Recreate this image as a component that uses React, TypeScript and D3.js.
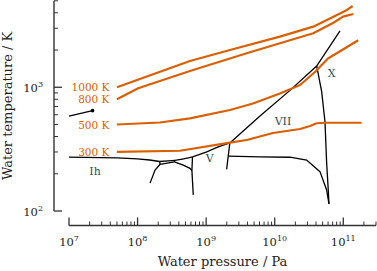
import React from 'react';
import * as d3 from 'd3';

const W = 377;
const H = 271;
const ORANGE = '#d95f02';
const PHASE_COLOR = '#2f4f4f';
const FONT = '"DejaVu Serif", serif';

// isotherms: pressure (Pa) and temperature (K)
const iso1000P = [5e7, 5.81e8, 2.23e9, 1.19e10, 3.65e10, 8.09e10, 1.13e11, 1.37e11];
const iso1000T = [1000, 1632, 2003, 2566, 3090, 3841, 4217, 4541];
const iso800P = [5e7, 1.02e8, 5.81e8, 3.9e9, 3.65e10, 7.08e10, 9.9e10, 1.4e11];
const iso800T = [800, 982, 1355, 1883, 2733, 3311, 3724, 3914];
const iso500P = [5e7, 2.12e8, 5.81e8, 2.23e9, 4.82e9, 1.19e10, 2.34e10, 3.86e10, 5.98e10, 1.06e11, 1.65e11];
const iso500T = [500, 519, 561, 655, 740, 891, 1044, 1330, 1709, 2066, 2399];
const iso300P = [5e7, 4.16e8, 2.23e9, 3.9e9, 9.44e9, 2.34e10, 3.27e10, 4.09e10, 5.41e10, 1.85e11];
const iso300T = [300, 307, 357, 375, 427, 460, 487, 512, 517, 517];
const isoLabels = ['1000 K', '800 K', '500 K', '300 K'];

// phase boundaries [P, T]
const liquidVapour = [[1e7, 584], [2.2064e7, 647.1]];
const criticalPoint = [2.2064e7, 647.1];
const meltIh = [[1e7, 272.5], [5e7, 268.8], [1e8, 264.2], [1.5e8, 258.3], [2.099e8, 251.2]];
const ihII = [[2.129e8, 238.5], [1.8e8, 214], [1.52e8, 168]];
const ihIII = [[2.099e8, 251.2], [2.129e8, 238.5]];
const meltIII = [[2.099e8, 251.2], [2.8e8, 254], [3.501e8, 256.2]];
const iiIII = [[2.129e8, 238.5], [3.44e8, 249.4]];
const iiiV = [[3.501e8, 256.2], [3.44e8, 249.4]];
const iiV = [[3.44e8, 249.4], [4.64e8, 235], [5.81e8, 221], [6.2e8, 212]];
const meltV = [[3.501e8, 256.2], [4.5e8, 263], [5.5e8, 269], [6.324e8, 273.3]];
const vVI = [[6.324e8, 273.3], [6.2e8, 212], [6.49e8, 135]];
const meltVI = [[6.324e8, 273.3], [1e9, 299], [1.5e9, 330], [2.216e9, 355]];
const viVII = [[2.216e9, 355], [2.1e9, 278], [1.99e9, 217]];
const viiVIII = [[2.1e9, 278], [6.1e9, 274], [1.67e10, 272], [2.92e10, 258], [4.57e10, 208], [5.72e10, 148], [6.18e10, 114]];
const meltVII = [[2.216e9, 355], [6.1e9, 585], [1.67e10, 944], [4.09e10, 1486], [8.95e10, 2851]];
const viiX = [[4.09e10, 1486], [4.84e10, 921], [5.41e10, 527], [5.72e10, 244], [6.04e10, 148], [6.18e10, 114]];

const phaseNames = ['Ih', 'V', 'VII', 'X'];
const phaseP = [2.4e7, 1.13e9, 1.32e10, 6.79e10];
const phaseT = [195, 249, 496, 1211];

const xMajor = [1e7, 1e8, 1e9, 1e10, 1e11];
const yMajor = [1e2, 1e3];

export default function App() {
  const x = d3.scaleLog().domain([1e7, 3e11]).range([69, 376]);
  const y = d3.scaleLog().domain([100, 5000]).range([211, 0.8]);
  const line = d3.line<number[]>().x(d => x(d[0])).y(d => y(d[1]));

  const isoP = [iso1000P, iso800P, iso500P, iso300P];
  const isoT = [iso1000T, iso800T, iso500T, iso300T];
  const isoLines = isoP.map((ps, i) => ps.map((p, j) => [p, isoT[i][j]]));

  const bounds = [liquidVapour, meltIh, ihII, ihIII, meltIII, iiIII, iiiV, iiV, meltV, vVI, meltVI, viVII, viiVIII, meltVII, viiX];

  const xMinor: number[] = [];
  xMajor.forEach(d => { for (let m = 2; m <= 9; m++) if (m * d <= 3e11) xMinor.push(m * d); });
  const yMinor: number[] = [];
  yMajor.forEach(d => { for (let m = 2; m <= 9; m++) if (m * d <= 5000) yMinor.push(m * d); });

  const axisY = 225.5;
  const spineX = 54;

  return (
    <svg width={W} height={H} style={{ position: 'absolute', left: 0, top: 0 }} fontFamily={FONT}>
      {/* phase boundaries */}
      {bounds.map((b, i) => (
        <path key={'b' + i} d={line(b) || ''} fill="none" stroke="#000" strokeWidth={1.3} />
      ))}
      <circle cx={x(criticalPoint[0])} cy={y(criticalPoint[1])} r={1.8} fill="#000" />

      {/* isotherms */}
      {isoLines.map((l, i) => (
        <path key={'i' + i} d={line(l) || ''} fill="none" stroke={ORANGE} strokeWidth={2.2} strokeLinejoin="round" />
      ))}
      {isoLines.map((l, i) => (
        <text key={'il' + i} x={x(l[0][0]) - 7.5} y={y(l[0][1]) + 4} textAnchor="end" fontSize={10.5} fill={ORANGE}>
          {isoLabels[i]}
        </text>
      ))}

      {/* phase labels */}
      {phaseNames.map((n, i) => (
        <text key={'p' + i} x={x(phaseP[i])} y={y(phaseT[i])} textAnchor="middle" fontSize={11} fill={PHASE_COLOR}>
          {n}
        </text>
      ))}

      {/* x axis */}
      <line x1={x(1e7)} x2={x(3e11)} y1={axisY} y2={axisY} stroke="#333" strokeWidth={1.4} />
      {xMinor.map((v, i) => (
        <line key={'xm' + i} x1={x(v)} x2={x(v)} y1={axisY} y2={axisY - 4} stroke="#333" strokeWidth={1} />
      ))}
      {xMajor.map((v, i) => (
        <g key={'xM' + i}>
          <line x1={x(v)} x2={x(v)} y1={axisY} y2={axisY - 8} stroke="#333" strokeWidth={1.3} />
          <text x={x(v)} y={246} textAnchor="middle" fontSize={11.5} fill="#222">
            10<tspan dy={-5} fontSize={8}>{Math.round(Math.log10(v))}</tspan>
          </text>
        </g>
      ))}
      <text x={(x(1e7) + x(3e11)) / 2} y={266} textAnchor="middle" fontSize={13} fill="#222">
        Water pressure / Pa
      </text>

      {/* y axis */}
      <line x1={spineX} x2={spineX} y1={y(5000)} y2={y(100)} stroke="#333" strokeWidth={1.4} />
      {yMinor.map((v, i) => (
        <line key={'ym' + i} x1={spineX} x2={spineX + 4} y1={y(v)} y2={y(v)} stroke="#333" strokeWidth={1} />
      ))}
      {yMajor.map((v, i) => (
        <g key={'yM' + i}>
          <line x1={spineX} x2={spineX + 8} y1={y(v)} y2={y(v)} stroke="#333" strokeWidth={1.3} />
          <text x={43} y={y(v) + 5} textAnchor="end" fontSize={11.5} fill="#222">
            10<tspan dy={-5} fontSize={8}>{Math.round(Math.log10(v))}</tspan>
          </text>
        </g>
      ))}
      <text transform={`translate(12,${(y(100) + y(5000)) / 2}) rotate(-90)`} textAnchor="middle" fontSize={13} fill="#222">
        Water temperature / K
      </text>
    </svg>
  );
}
